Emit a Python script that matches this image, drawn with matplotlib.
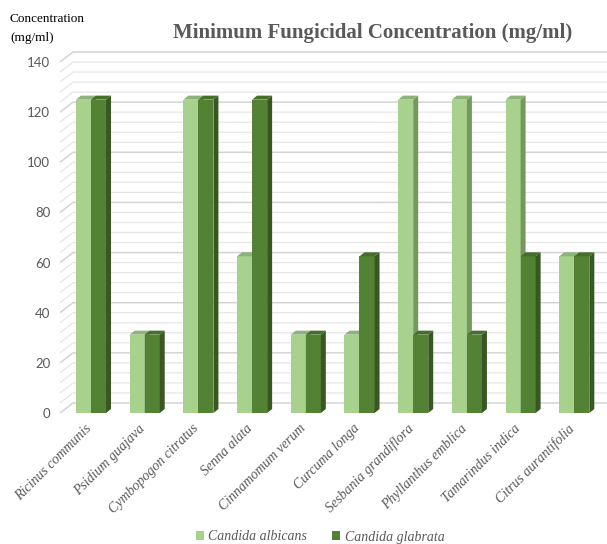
import matplotlib
matplotlib.use("Agg")
import matplotlib.pyplot as plt
from matplotlib.patches import Polygon, Patch

# Data
species = ["Ricinus communis", "Psidium guajava", "Cymbopogon citratus", "Senna alata",
           "Cinnamomum verum", "Curcuma longa", "Sesbania grandiflora",
           "Phyllanthus emblica", "Tamarindus indica", "Citrus aurantifolia"]
albicans = [125, 31.25, 125, 62.5, 31.25, 31.25, 125, 125, 125, 62.5]
glabrata = [125, 31.25, 125, 125, 31.25, 62.5, 31.25, 31.25, 62.5, 62.5]
yticks = [0, 20, 40, 60, 80, 100, 120, 140]

W, H = 607, 544
fig = plt.figure(figsize=(W / 100, H / 100), dpi=100)
ax = fig.add_axes([60 / W, (H - 413) / H, 1 - 60 / W, (413 - 50) / H])
x_left, x_right = -0.577, 9.609
ax.set_xlim(x_left, x_right)
ax.set_ylim(0, 144.8)
for s in ax.spines.values():
    s.set_visible(False)

# depth offsets of the pseudo-3D look
back_dx, back_dy = 0.242, 4.0
dx, dy = 0.093, 1.6
bw = 0.28

# back wall / side wall gridlines
v = 0
while v <= 140:
    major = v % 20 == 0
    col = "#d4d4d4" if major else "#e6e6e6"
    lw = 1.1 if major else 0.9
    ax.plot([x_left, x_left + back_dx, x_right], [v, v + back_dy, v + back_dy],
            color=col, lw=lw, zorder=1, clip_on=False, solid_capstyle="butt")
    v += 4


def bar3d(x0, h, front, top, side):
    ax.bar(x0, h, width=bw, align="edge", color=front, zorder=3, linewidth=0)
    ax.add_patch(Polygon([(x0, h), (x0 + bw, h), (x0 + bw + dx, h + dy), (x0 + dx, h + dy)],
                         closed=True, facecolor=top, edgecolor="none", zorder=3))
    ax.add_patch(Polygon([(x0 + bw, 0), (x0 + bw + dx, dy), (x0 + bw + dx, h + dy), (x0 + bw, h)],
                         closed=True, facecolor=side, edgecolor="none", zorder=3))


light = ("#a9d18e", "#8db378", "#76985f")
dark = ("#548235", "#466f2b", "#385723")
for i, (a, g) in enumerate(zip(albicans, glabrata)):
    bar3d(i - bw, a, *light)
    bar3d(i, g, *dark)

# axis labels
ax.set_yticks(yticks)
ax.set_yticklabels([str(t) for t in yticks], family="Lato", fontsize=9.5, color="#595959")
ax.tick_params(axis="y", length=0, pad=7)
ax.set_xticks([])
for i, name in enumerate(species):
    ax.text(i - 0.12, -3.5, name, rotation=45, rotation_mode="anchor", ha="right", va="top",
            family="Liberation Serif", style="italic", fontsize=10, color="#595959")

fig.text(373 / W, 1 - 33 / H, "Minimum Fungicidal Concentration (mg/ml)", ha="center", va="center",
         family="Liberation Serif", weight="bold", fontsize=15, color="#595959")
fig.text(10 / W, 1 - 13 / H, "Concentration\n(mg/ml)", ha="left", va="top",
         family="Liberation Serif", fontsize=9.5, color="black", linespacing=1.75)

handles = [Patch(facecolor=light[0], label="Candida albicans"),
           Patch(facecolor=dark[0], label="Candida glabrata")]
fig.legend(handles=handles, loc="center", bbox_to_anchor=(320 / W, 1 - 537 / H), ncol=2,
           frameon=False, handlelength=0.6, handleheight=0.6, handletextpad=0.3, columnspacing=1.8,
           prop={"family": "Liberation Serif", "style": "italic", "size": 10}, labelcolor="#595959")

fig.savefig("out.png", dpi=100)
